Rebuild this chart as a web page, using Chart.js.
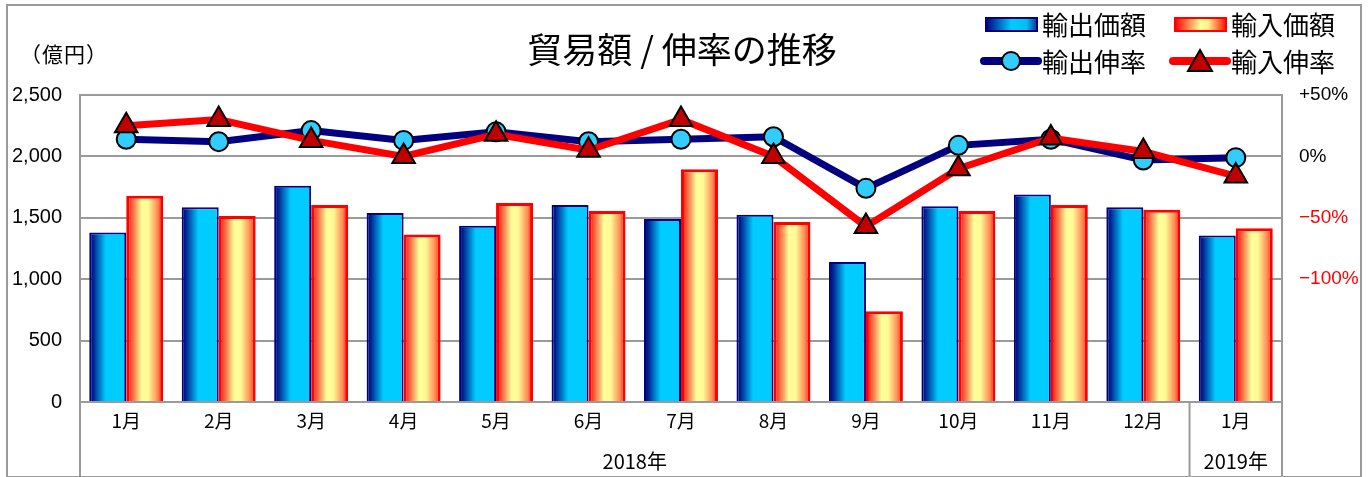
<!DOCTYPE html>
<html>
<head>
<meta charset="utf-8">
<script src="https://cdn.jsdelivr.net/npm/chart.js@4"></script>
<style>
  html, body { margin:0; padding:0; background:#fff; }
  #wrap { position:relative; width:1370px; height:477px; overflow:hidden; }
  #c { position:absolute; left:0; top:0; }
  .frame { position:absolute; left:6px; top:4px; width:1352px; height:470px; border:2px solid #9a9a9a; pointer-events:none; }
  .txt { position:absolute; font-family:"Noto Sans CJK JP","Noto Sans",sans-serif; color:#000; white-space:nowrap; }
  .title { left:0; width:1364px; text-align:center; top:28px; font-size:35px; line-height:40px; }
  .unit { left:20px; top:42px; font-size:21px; line-height:22px; letter-spacing:1px; }
  .leg { font-size:26px; line-height:28px; }
  svg.sw { position:absolute; }
</style>
</head>
<body>
<div id="wrap">
  <canvas id="c" width="1370" height="477"></canvas>
  <div class="frame"></div>
  <div class="txt title">貿易額 / 伸率の推移</div>
  <div class="txt unit">（億円）</div>

  <svg class="sw" style="left:984px;top:16px" width="56" height="18">
    <defs>
      <linearGradient id="gb" x1="0" x2="1" y1="0" y2="0">
        <stop offset="0" stop-color="#000080"/><stop offset="0.5" stop-color="#00CCFF"/><stop offset="0.8" stop-color="#00C0F0"/><stop offset="1" stop-color="#1030A0"/>
      </linearGradient>
    </defs>
    <rect x="2" y="2" width="51" height="13" fill="url(#gb)" stroke="#000080" stroke-width="2"/>
  </svg>
  <div class="txt leg" style="left:1042px;top:10px">輸出価額</div>

  <svg class="sw" style="left:1173px;top:16px" width="56" height="18">
    <defs>
      <linearGradient id="gr2" x1="0" x2="1" y1="0" y2="0">
        <stop offset="0" stop-color="#FF0000"/><stop offset="0.5" stop-color="#FFFF99"/><stop offset="0.65" stop-color="#FFF090"/><stop offset="1" stop-color="#FF1000"/>
      </linearGradient>
    </defs>
    <rect x="2" y="2" width="51" height="13" fill="url(#gr2)" stroke="#FF0000" stroke-width="2"/>
  </svg>
  <div class="txt leg" style="left:1231px;top:10px">輸入価額</div>

  <svg class="sw" style="left:980px;top:48px" width="62" height="26">
    <line x1="4" y1="13" x2="58" y2="13" stroke="#000080" stroke-width="8" stroke-linecap="round"/>
    <circle cx="31" cy="13" r="9" fill="#33CCFF" stroke="#000" stroke-width="2"/>
  </svg>
  <div class="txt leg" style="left:1042px;top:47px">輸出伸率</div>

  <svg class="sw" style="left:1169px;top:46px" width="62" height="30">
    <line x1="4" y1="15" x2="58" y2="15" stroke="#FF0000" stroke-width="8" stroke-linecap="round"/>
    <polygon points="31,4 43,25 19,25" fill="#C00000" stroke="#000" stroke-width="2"/>
  </svg>
  <div class="txt leg" style="left:1231px;top:47px">輸入伸率</div>
</div>

<script>
// ---- data ----
const months = ['1月','2月','3月','4月','5月','6月','7月','8月','9月','10月','11月','12月','1月'];
const yearLabels = ['2018年','2019年'];
const yearSpans = [12, 1];               // number of months in each year group
const exportValues = [1380, 1585, 1760, 1540, 1435, 1605, 1490, 1525, 1140, 1595, 1690, 1585, 1355];
const importValues = [1680, 1515, 1605, 1365, 1620, 1555, 1895, 1465, 740, 1555, 1605, 1565, 1415];
const exportRate = [14, 12, 21, 13, 20, 12, 14, 16, -26, 9, 14, -3, -1];
const importRate = [25, 30, 13, 0, 18, 5, 30, 0, -57, -10, 15, 4, -16];
const leftTicks = [0, 500, 1000, 1500, 2000, 2500];
const rightTicks = [50, 0, -50, -100];

const GRID = '#9a9a9a';

function barGradient(ctx, x0, x1, type) {
  const g = ctx.createLinearGradient(x0, 0, x1, 0);
  if (type === 'blue') {
    g.addColorStop(0, '#000080');
    g.addColorStop(0.1, '#001E8C');
    g.addColorStop(0.45, '#00CCFF');
    g.addColorStop(1, '#00CCFF');
  } else {
    g.addColorStop(0, '#FF0000');
    g.addColorStop(0.15, '#FF5A3A');
    g.addColorStop(0.42, '#FFFF99');
    g.addColorStop(0.6, '#FFFA96');
    g.addColorStop(0.85, '#FF8A55');
    g.addColorStop(1, '#FF1000');
  }
  return g;
}

const gradientPlugin = {
  id: 'barGrad',
  beforeDatasetsDraw(chart) {
    const ctx = chart.ctx;
    chart.data.datasets.forEach((ds, i) => {
      if (ds.type !== 'bar') return;
      const meta = chart.getDatasetMeta(i);
      meta.data.forEach(el => {
        const x0 = el.x - el.width / 2, x1 = el.x + el.width / 2;
        el.options = Object.assign({}, el.options, { backgroundColor: barGradient(ctx, x0, x1, ds.gradType) });
      });
    });
  }
};

const axisPlugin = {
  id: 'axisExtras',
  afterDraw(chart) {
    const ctx = chart.ctx;
    const xs = chart.scales.x;
    const ca = chart.chartArea;
    const bottom = chart.height;
    const step = (xs.getPixelForValue(1) - xs.getPixelForValue(0));
    const bounds = [ca.left];
    let idx = 0;
    yearSpans.forEach(n => { idx += n; bounds.push(xs.getPixelForValue(idx - 1) + step / 2); });
    bounds[bounds.length - 1] = ca.right;
    ctx.save();
    ctx.strokeStyle = GRID;
    ctx.lineWidth = 2;
    bounds.forEach(b => {
      ctx.beginPath();
      ctx.moveTo(b, ca.bottom);
      ctx.lineTo(b, bottom);
      ctx.stroke();
    });
    ctx.fillStyle = '#000';
    ctx.font = '20px "Noto Sans CJK JP", sans-serif';
    ctx.textAlign = 'center';
    ctx.textBaseline = 'middle';
    yearLabels.forEach((t, k) => {
      ctx.fillText(t, (bounds[k] + bounds[k + 1]) / 2, 461);
    });
    ctx.restore();
  }
};

new Chart(document.getElementById('c'), {
  data: {
    labels: months,
    datasets: [
      { type:'line', label:'輸入伸率', data: importRate, yAxisID:'y1', order:1,
        borderColor:'#FF0000', borderWidth:7, tension:0,
        pointStyle:'triangle', pointRadius:13, pointBackgroundColor:'#C00000',
        pointBorderColor:'#000', pointBorderWidth:2 },
      { type:'line', label:'輸出伸率', data: exportRate, yAxisID:'y1', order:2,
        borderColor:'#000080', borderWidth:7, tension:0,
        pointStyle:'circle', pointRadius:9.5, pointBackgroundColor:'#33CCFF',
        pointBorderColor:'#000', pointBorderWidth:2 },
      { type:'bar', label:'輸出価額', data: exportValues, yAxisID:'y', order:3, gradType:'blue',
        backgroundColor:'#00CCFF', borderColor:'#000080', borderWidth:2,
        categoryPercentage:0.8, barPercentage:1.0 },
      { type:'bar', label:'輸入価額', data: importValues, yAxisID:'y', order:3, gradType:'red',
        backgroundColor:'#FFFF99', borderColor:'#FF0000', borderWidth:3,
        categoryPercentage:0.8, barPercentage:1.0 }
    ]
  },
  options: {
    responsive:false,
    devicePixelRatio:1,
    animation:false,
    events:[],
    layout:{ padding:{ left:0, right:0, top:95, bottom:0 } },
    plugins:{ legend:{ display:false }, title:{ display:false }, tooltip:{ enabled:false } },
    scales:{
      x:{
        type:'category', offset:true,
        grid:{ display:false, drawTicks:false },
        border:{ display:false },
        ticks:{ color:'#000', font:{ family:'"Noto Sans CJK JP", sans-serif', size:19 }, padding:7, maxRotation:0, autoSkip:false },
        afterFit(s){ s.height = 75; }
      },
      y:{
        position:'left', min:0, max:2500,
        afterBuildTicks(s){ s.ticks = leftTicks.map(v => ({ value:v })); },
        grid:{ color:GRID, lineWidth:2, drawTicks:false },
        border:{ display:true, color:GRID, width:2 },
        ticks:{ color:'#000', padding:18, font:{ family:'"Liberation Sans", Arial, sans-serif', size:20 },
          callback:v => v.toLocaleString('en-US') },
        afterFit(s){ s.width = 80; }
      },
      y1:{
        position:'right', min:-200, max:50,
        afterBuildTicks(s){ s.ticks = rightTicks.map(v => ({ value:v })); },
        grid:{ display:false, drawTicks:false },
        border:{ display:true, color:GRID, width:2 },
        ticks:{ padding:17, font:{ family:'"Liberation Sans", Arial, sans-serif', size:19 },
          color: c => (c.tick && c.tick.value < 0) ? '#FF0000' : '#000',
          callback:v => v > 0 ? '+' + v + '%' : (v < 0 ? '\u2212' + Math.abs(v) + '%' : '0%') },
        afterFit(s){ s.width = 88; }
      }
    }
  },
  plugins:[gradientPlugin, axisPlugin]
});
</script>
</body>
</html>
